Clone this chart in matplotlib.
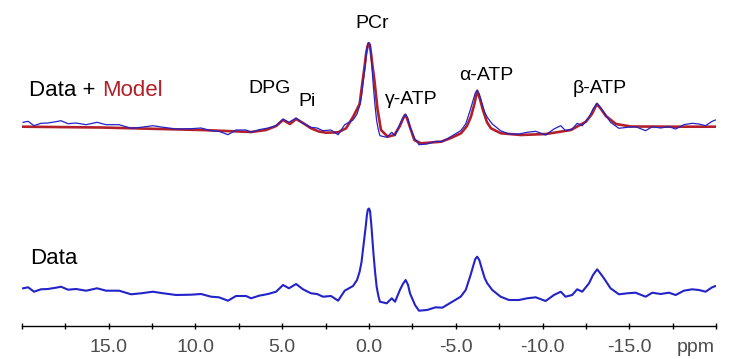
import matplotlib
matplotlib.use("Agg")
import matplotlib.pyplot as plt
from matplotlib.ticker import MultipleLocator, FuncFormatter

plt.rcParams['font.family'] = ['Liberation Sans', 'DejaVu Sans']
plt.rcParams['axes.unicode_minus'] = False

# chemical shift (ppm) and measured signal (a.u.)
data_ppm = [19.92, 19.63, 19.29, 18.89, 18.49, 18.03, 17.74, 17.33, 16.87, 16.29,
            15.66, 15.14, 14.39, 13.70, 13.13, 12.44, 11.97, 11.11, 10.25, 9.67,
            9.10, 8.64, 8.12, 7.66, 7.08, 6.79, 6.33, 5.81, 5.35, 4.95,
            4.61, 4.20, 3.80, 3.34, 2.99, 2.65, 2.19, 1.78, 1.40, 0.92,
            0.69, 0.54, 0.43, 0.35, 0.26, 0.19, 0.12, 0.06, 0.0, -0.06,
            -0.13, -0.19, -0.25, -0.35, -0.44, -0.54, -0.63, -1.02,
            -1.31, -1.50, -1.78, -1.95, -2.11, -2.25, -2.36, -2.65, -2.88, -3.34, -3.84, -4.22,
            -4.80, -5.28, -5.57, -5.85, -6.0, -6.12, -6.23, -6.35, -6.52, -6.66, -6.81, -7.10, -7.58, -8.06,
            -8.64, -9.11, -9.60, -10.17, -10.65, -11.04, -11.32, -11.70, -11.99, -12.28,
            -12.67, -12.9, -13.14, -13.35, -13.53, -13.91, -14.39, -14.87, -15.35, -15.93, -16.31, -16.79,
            -17.27, -17.66, -18.13, -18.61, -19.00, -19.38, -19.76, -19.96]
data_sig = [11.7, 12.7, 8.3, 10.7, 11.0, 12.3, 13.3, 10.3, 11.0, 9.3,
            11.7, 9.3, 9.3, 5.7, 6.7, 8.3, 7.0, 5.0, 5.3, 6.0,
            3.3, 2.7, -0.7, 4.0, 4.0, 1.7, 4.3, 6.0, 8.3, 15.0,
            11.7, 16.0, 10.7, 6.7, 6.0, 3.3, 4.0, -0.7, 9.3, 14.0,
            20.0, 28.3, 38.0, 50.0, 63.0, 73.3, 85.0, 90.7, 91.5, 89.0,
            76.0, 62.0, 48.0, 28.0, 13.3, 4.0, -1.7, -3.3,
            1.7, -1.7, 10.0, 16.0, 20.0, 15.0, 6.7, -5.0, -10.7, -10.0, -7.3, -7.7,
            -1.7, 3.3, 10.0, 25.0, 34.0, 41.0, 43.3, 40.0, 30.0, 22.0, 16.7, 10.0, 3.3, 0.0,
            0.0, 1.7, 2.7, -1.0, 5.0, 8.3, 3.3, 5.0, 10.7, 8.3,
            16.7, 25.0, 30.7, 26.0, 21.7, 11.7, 5.7, 6.7, 7.3, 3.3, 7.3, 6.0,
            7.3, 5.0, 9.3, 10.7, 10.0, 8.3, 12.7, 14.0]

# fitted model
model_ppm = [19.92, 15.43, 9.67, 6.79, 5.93, 5.35, 4.95, 4.55, 4.20, 3.80,
             3.34, 2.88, 2.48, 1.78, 1.32, 0.92, 0.54, 0.36, 0.25, 0.17, 0.08, 0.02,
             -0.05, -0.12, -0.20, -0.31, -0.49, -0.69, -1.08, -1.46, -1.78, -1.95, -2.07, -2.18, -2.30, -2.61,
             -2.99, -4.15, -4.72, -5.30, -5.64, -5.87, -6.07, -6.23, -6.39, -6.56,
             -6.79, -7.02, -7.60, -8.75, -10.19, -11.63, -12.49, -12.84, -13.12, -13.36,
             -13.64, -14.22, -15.08, -17.96, -19.98]
model_sig = [7.3, 6.5, 4.0, 2.0, 4.0, 8.0, 14.0, 10.0, 15.0, 11.0,
             5.7, 2.5, 1.3, 1.7, 5.7, 17.0, 30.0, 54.0, 68.0, 80.0, 88.0, 90.7,
             89.0, 80.0, 68.0, 54.0, 25.0, 4.0, -2.7, -1.0, 8.0, 15.0, 19.0, 16.0, 10.0, -6.0,
             -9.3, -7.7, -4.0, 0.7, 8.0, 17.3, 30.0, 43.3, 35.0, 24.0,
             12.0, 5.7, 0.7, -1.0, 0.0, 4.0, 12.3, 20.0, 30.0, 25.0,
             18.0, 10.0, 7.5, 7.3, 7.3]

offset = 166  # vertical shift of the upper trace

peaks = ["DPG", "Pi", "PCr", "γ-ATP", "α-ATP", "β-ATP"]
peak_x = [5.7, 3.57, -0.2, -2.45, -6.76, -13.3]
peak_y = [211.7, 198.3, 276.7, 200, 225, 211.7]

blue = '#2323c8'
red = '#b3202a'

fig = plt.figure(figsize=(7.36, 3.59), dpi=100)
ax = fig.add_axes([21.7 / 736, 33 / 359, 694.6 / 736, 326 / 359])

ax.plot(model_ppm, [v + offset for v in model_sig], color=red, lw=1.9)
ax.plot(data_ppm, [v + offset for v in data_sig], color=blue, lw=0.9)
ax.plot(data_ppm, data_sig, color=blue, lw=1.5)

ax.set_xlim(20, -20)
ax.set_ylim(-26, 300)

for s in ['top', 'left', 'right']:
    ax.spines[s].set_visible(False)
ax.spines['bottom'].set_linewidth(1.0)
ax.set_yticks([])

ax.xaxis.set_major_locator(MultipleLocator(5))
ax.xaxis.set_minor_locator(MultipleLocator(2.5))
ax.xaxis.set_major_formatter(FuncFormatter(lambda v, p: '' if abs(v) >= 19.9 else f'{v:.1f}'))
ax.tick_params(axis='x', which='both', direction='inout', length=5, width=1.0,
               labelsize=14, labelcolor='#4d4d4d', pad=7)

ax.text(-18.8, -48, 'ppm', fontsize=14, color='#4d4d4d', ha='center', va='center',
        clip_on=False)

t = ax.text(19.57, 210, 'Data + ', fontsize=16, ha='left', va='center')
ax.annotate('Model', xycoords=t, xy=(1, 0), va='bottom', ha='left',
            fontsize=16, color=red)
ax.text(19.5, 41, 'Data', fontsize=16, ha='left', va='center')

for name, x, y in zip(peaks, peak_x, peak_y):
    ax.text(x, y, name, fontsize=14, ha='center', va='center')

fig.savefig('out.png', dpi=100)
